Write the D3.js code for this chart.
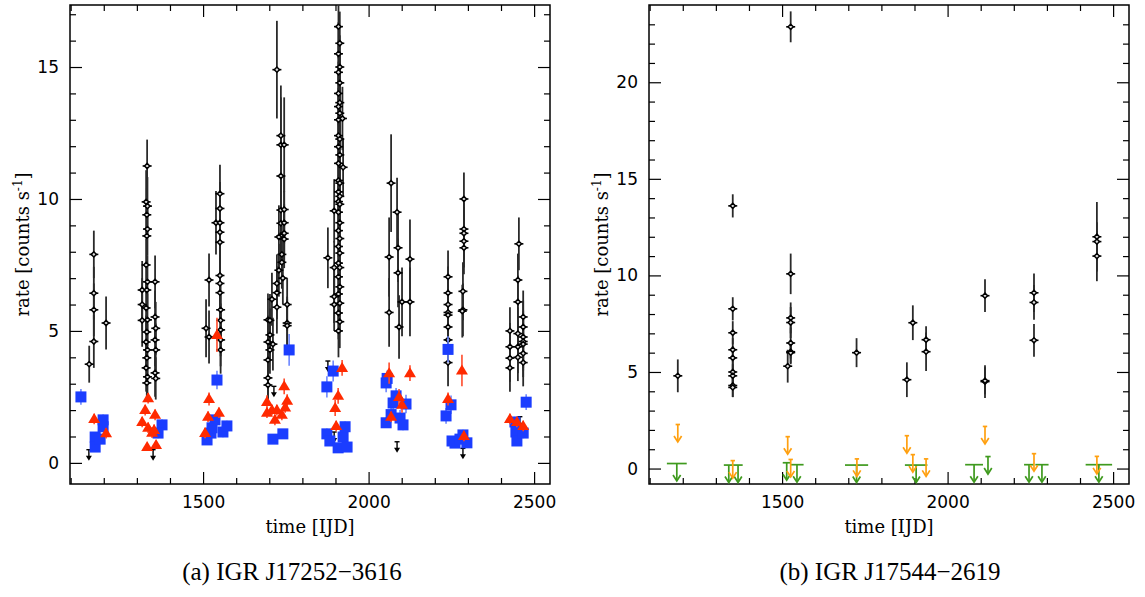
<!DOCTYPE html>
<html>
<head>
<meta charset="utf-8">
<script src="https://cdn.jsdelivr.net/npm/d3@7"></script>
<style>
  html, body { margin: 0; padding: 0; background: #fff; }
  svg { display: block; }
  .tick text { font-family: "DejaVu Sans", sans-serif; font-size: 17px; fill: #000; }
  .axlabel { font-family: "DejaVu Serif", serif; font-size: 18px; }
  .caption { font-family: "Liberation Serif", "Times New Roman", serif; font-size: 25px; }
</style>
</head>
<body>
<svg id="chart" width="1145" height="597"></svg>
<script>
// ---------------- data ----------------
const xDomain = [1098, 2548];
const xMajorTicks = [1500, 2000, 2500];
const leftYDomain = [-0.8, 17.35];
const rightYDomain = [-0.8, 24.0];
const leftYMajorTicks = [0, 5, 10, 15];
const rightYMajorTicks = [0, 5, 10, 15, 20];
const captions = ["(a) IGR J17252\u22123616", "(b) IGR J17544\u22122619"];

// Panel (a): black points [time, rate, error]
const aBlack = [
  [1156,3.74,0.7],[1170,7.9,0.9],[1170,6.43,1.0],[1170,5.8,1.0],[1170,4.6,1.0],[1207,5.3,1.0],
  [1316,6.55,1.1],[1316,6.0,1.0],[1316,5.4,1.0],
  [1331,11.25,1.0],[1328,9.89,1.2],[1332,9.73,1.1],[1330,9.4,1.0],[1332,8.86,1.0],[1330,8.6,1.0],
  [1328,7.5,1.0],[1332,6.86,1.0],[1330,6.55,1.0],[1328,5.87,1.0],[1332,5.42,1.0],[1330,4.96,1.0],
  [1328,4.58,1.0],[1332,4.28,1.0],[1330,3.98,0.9],[1328,3.6,0.9],[1332,3.26,0.8],[1330,3.03,0.6],
  [1355,6.86,1.0],[1355,5.53,1.0],[1357,5.1,1.0],[1355,4.66,1.0],[1357,4.28,1.0],[1355,3.41,0.9],[1357,3.2,0.8],
  [1509,5.1,1.1],[1518,6.93,1.0],[1518,4.77,1.0],[1539,9.1,1.2],
  [1551,10.2,1.1],[1551,9.64,1.0],[1551,9.1,1.0],[1551,8.74,1.0],[1551,8.36,1.0],[1551,7.1,1.0],
  [1551,6.8,1.0],[1551,6.45,1.0],[1553,5.8,1.0],[1553,5.4,1.0],[1553,5.04,1.0],[1553,4.66,1.0],[1553,4.28,0.9],
  [1723,14.9,1.85],[1735,12.4,1.9],[1735,12.05,1.8],[1735,10.87,1.5],[1735,9.58,1.2],[1735,9.08,1.2],[1735,8.6,1.1],
  [1745,12.05,1.8],[1745,9.6,1.3],[1745,9.1,1.2],[1745,8.7,1.1],[1745,8.48,1.1],[1729,8.56,1.2],
  [1696,5.42,1.0],[1696,4.58,1.0],[1696,3.9,0.9],[1696,3.22,0.8],[1696,2.95,0.6],
  [1702,5.4,1.0],[1702,4.85,1.0],[1702,4.28,0.9],[1723,6.8,1.1],[1723,6.45,1.0],[1723,5.9,1.0],
  [1738,7.9,1.1],[1738,7.6,1.0],[1754,6.0,1.0],[1754,5.3,1.0],[1754,5.2,1.0],[1711,4.5,1.0],
  [1708,6.2,1.0],[1729,7.3,1.0],[1741,7.0,1.0],
  [1909,16.53,1.2],[1913,15.9,1.2],[1909,15.5,1.2],[1913,15.0,1.2],[1909,14.8,1.2],[1913,14.4,1.2],
  [1909,14.0,1.2],[1913,13.65,1.2],[1909,13.5,1.2],[1913,13.25,1.2],[1909,13.0,1.2],[1909,12.4,1.1],
  [1913,12.27,1.1],[1909,11.98,1.1],[1913,11.67,1.1],[1909,11.35,1.1],[1923,11.2,1.1],[1909,10.7,1.1],
  [1913,10.6,1.1],[1909,10.27,1.1],[1913,10.1,1.1],[1909,9.9,1.0],[1913,9.8,1.0],[1909,9.5,1.0],
  [1913,9.1,1.0],[1909,8.8,1.0],[1913,8.5,1.0],[1909,8.2,1.0],[1913,7.95,1.0],[1909,7.57,1.0],
  [1913,7.4,1.0],[1909,7.05,1.0],[1913,6.67,1.0],[1909,6.4,1.0],[1913,6.05,1.0],[1909,5.68,1.0],
  [1913,5.35,1.0],[1909,5.0,1.0],[1877,7.77,1.15],[1896,9.55,1.2],[1896,7.4,1.0],[1896,6.3,1.0],
  [1896,6.0,1.0],[1921,13.05,1.2],
  [2068,10.6,1.85],[2086,9.5,1.3],[2089,8.15,1.3],[2062,7.8,1.5],[2062,5.7,1.3],[2089,7.2,1.3],
  [2092,5.15,1.2],[2101,6.1,1.3],[2125,7.72,1.5],[2125,6.1,1.3],
  [2288,10.0,1.0],[2288,8.86,1.0],[2288,8.7,1.0],[2288,8.4,1.0],[2288,8.15,1.0],
  [2240,7.05,1.0],[2240,6.44,1.0],[2240,6.0,1.0],[2240,5.7,1.0],[2240,5.6,1.0],[2240,5.15,1.0],
  [2240,4.66,1.0],[2240,3.8,0.9],[2285,6.5,1.1],[2285,5.8,1.0],[2283,5.75,1.0],
  [2454,8.3,1.0],[2427,5.0,0.9],[2427,4.4,0.9],[2427,3.97,0.9],[2427,3.6,0.9],
  [2451,6.93,1.0],[2451,6.1,1.0],[2451,4.9,1.0],[2451,4.4,1.0],[2451,4.0,0.9],
  [2467,5.53,1.0],[2467,5.15,1.0],[2467,4.77,1.0],[2467,4.6,1.0],[2467,4.5,1.0],[2467,4.15,0.9],[2467,3.8,0.9]
];
// Panel (a): black upper limits [time, rate]
const aBlackLimits = [[1155,0.5],[1349,0.5],[1714,2.9],[1877,3.86],[1896,1.17],[2086,0.8],[2285,0.55],[2457,1.75]];
// Panel (a): blue squares [time, rate, error]
const aBlue = [
  [1131,2.5,0.3],[1174,0.98,0.15],[1174,0.6,0.15],[1198,1.63,0.2],[1198,1.37,0.2],[1189,0.9,0.15],
  [1376,1.44,0.2],[1364,1.13,0.2],
  [1542,3.14,0.35],[1512,0.87,0.15],[1524,1.13,0.2],[1527,1.33,0.2],[1536,1.63,0.2],[1560,1.17,0.2],[1572,1.4,0.2],
  [1760,4.28,0.6],[1711,0.9,0.15],[1741,1.1,0.15],
  [1874,2.88,0.4],[1893,3.48,0.4],[1874,1.1,0.2],[1883,0.83,0.15],[1908,0.57,0.15],[1923,0.98,0.2],[1929,1.37,0.2],[1935,0.6,0.15],
  [2053,3.03,0.35],[2056,3.2,0.3],[2083,2.54,0.3],[2074,2.27,0.3],[2068,1.83,0.3],[2053,1.52,0.2],[2095,1.7,0.3],[2104,1.44,0.2],[2113,2.23,0.35],
  [2240,4.3,0.5],[2249,2.2,0.35],[2234,1.78,0.3],[2252,0.83,0.15],[2261,0.75,0.15],[2276,0.9,0.15],[2285,1.06,0.2],[2297,0.76,0.15],
  [2476,2.3,0.3],[2442,1.55,0.2],[2445,1.17,0.2],[2448,0.83,0.15],[2467,1.13,0.2]
];
// Panel (a): red triangles [time, rate, error]
const aRed = [
  [1171,1.66,0.2],[1207,1.12,0.2],
  [1334,2.45,0.2],[1325,2.0,0.2],[1316,1.55,0.2],[1334,1.33,0.2],[1346,1.14,0.2],[1355,1.82,0.2],[1331,0.6,0.15],[1358,0.68,0.15],[1352,1.25,0.2],
  [1542,4.85,0.65],[1518,2.42,0.25],[1515,1.75,0.2],[1506,1.13,0.2],[1548,1.9,0.2],
  [1745,2.9,0.3],[1693,2.31,0.25],[1754,2.35,0.25],[1693,1.9,0.2],[1708,2.0,0.2],[1723,2.0,0.2],[1717,1.63,0.2],[1738,1.82,0.2],[1748,2.1,0.2],
  [1920,3.6,0.3],[1908,2.54,0.3],[1899,2.08,0.3],[1902,1.4,0.2],
  [2062,3.4,0.4],[2125,3.4,0.3],[2092,2.5,0.3],[2101,2.2,0.3],[2068,1.75,0.2],
  [2282,3.5,0.6],[2240,2.42,0.25],[2288,1.02,0.2],
  [2427,1.66,0.2],[2448,1.55,0.2],[2467,1.4,0.2]
];
// Panel (b): black points [time, rate, error]
const bBlack = [
  [1185,4.8,0.85],[1351,13.6,0.6],[1351,8.27,0.6],[1351,7.03,0.6],[1351,6.15,0.6],[1351,5.73,0.6],
  [1351,5.0,0.6],[1351,4.8,0.6],[1351,4.3,0.6],[1351,4.2,0.5],[1517,5.3,0.85],[1526,22.87,0.8],
  [1526,10.08,1.05],[1526,7.8,0.8],[1526,7.56,0.8],[1526,6.5,0.8],[1526,6.05,0.6],[1526,6.0,0.6],
  [1725,6.0,0.75],[1877,4.6,0.9],[1895,7.55,0.9],[1935,6.67,0.7],[1935,6.05,1.0],
  [2113,8.95,0.85],[2113,4.5,0.85],[2113,4.55,0.7],[2261,9.1,1.0],[2261,8.6,0.9],[2261,6.64,0.85],
  [2451,12.0,1.8],[2451,11.75,1.0],[2451,11.0,1.3]
];
// Panel (b): orange upper limits [time, rate]
const bOrangeLimits = [[1185,2.28],[1351,0.41],[1517,1.65],[1526,0.47],[1726,0.5],[1877,1.7],[1895,0.72],[1935,0.5],[2113,2.18],[2261,0.77],[2451,0.63]];
// Panel (b): green upper limits [time, rate, half-width in days]
const bGreenLimits = [[1182,0.26,30],[1339,0.18,15],[1367,0.18,14],[1514,0.3,12],[1545,0.2,20],[1725,0.18,35],[1905,0.18,34],[2080,0.2,27],[2122,0.62,8],[2246,0.2,15],[2285,0.2,20],[2457,0.2,40]];

// ---------------- drawing ----------------
const svg = d3.select("#chart");
const C = { black: "#000", bar: "#2a2a2a", blue: "#1b3dff", blueBar: "#6b86ff", red: "#ff2a00", redBar: "#ff4a2a", orange: "#ffa010", green: "#3f9a1e" };

function makePanel(id, box, yDomain, yMajor, caption, capX) {
  const x = d3.scaleLinear().domain(xDomain).range([box.x0, box.x1]);
  const y = d3.scaleLinear().domain(yDomain).range([box.y1, box.y0]);
  const g = svg.append("g");
  const minorX = d3.range(1100, 2548, 100).filter(v => !xMajorTicks.includes(v));
  const minorY = d3.range(Math.ceil(yDomain[0]), yDomain[1], 1).filter(v => !yMajor.includes(v));

  function styleAxis(sel) {
    sel.select(".domain").remove();
    sel.selectAll(".tick line").attr("stroke", "#000").attr("stroke-width", 1.2);
  }
  g.append("g").attr("transform", `translate(0,${box.y1})`)
    .call(d3.axisBottom(x).tickValues(xMajorTicks).tickFormat(d3.format("d")).tickSize(-12).tickPadding(12)).call(styleAxis);
  g.append("g").attr("transform", `translate(0,${box.y1})`)
    .call(d3.axisBottom(x).tickValues(minorX).tickFormat("").tickSize(-6)).call(styleAxis);
  g.append("g").attr("transform", `translate(0,${box.y0})`)
    .call(d3.axisTop(x).tickValues(xMajorTicks).tickFormat("").tickSize(-12)).call(styleAxis);
  g.append("g").attr("transform", `translate(0,${box.y0})`)
    .call(d3.axisTop(x).tickValues(minorX).tickFormat("").tickSize(-6)).call(styleAxis);
  g.append("g").attr("transform", `translate(${box.x0},0)`)
    .call(d3.axisLeft(y).tickValues(yMajor).tickFormat(d3.format("d")).tickSize(-12).tickPadding(11)).call(styleAxis);
  g.append("g").attr("transform", `translate(${box.x0},0)`)
    .call(d3.axisLeft(y).tickValues(minorY).tickFormat("").tickSize(-6)).call(styleAxis);
  g.append("g").attr("transform", `translate(${box.x1},0)`)
    .call(d3.axisRight(y).tickValues(yMajor).tickFormat("").tickSize(-12)).call(styleAxis);
  g.append("g").attr("transform", `translate(${box.x1},0)`)
    .call(d3.axisRight(y).tickValues(minorY).tickFormat("").tickSize(-6)).call(styleAxis);

  g.append("rect").attr("x", box.x0).attr("y", box.y0).attr("width", box.x1 - box.x0).attr("height", box.y1 - box.y0)
    .attr("fill", "none").attr("stroke", "#000").attr("stroke-width", 1.5);

  g.append("text").attr("class", "axlabel").attr("x", (box.x0 + box.x1) / 2).attr("y", 533).attr("text-anchor", "middle")
    .text("time [IJD]");
  const yl = g.append("text").attr("class", "axlabel")
    .attr("transform", `translate(${box.x0 - 41},${(box.y0 + box.y1) / 2}) rotate(-90)`)
    .attr("text-anchor", "middle");
  yl.append("tspan").text("rate [counts s");
  yl.append("tspan").attr("dy", -7).attr("font-size", 12).text("-1");
  yl.append("tspan").attr("dy", 7).text("]");

  g.append("text").attr("class", "caption").attr("x", capX).attr("y", 580).attr("text-anchor", "middle").text(caption);

  const clipId = "clip-" + id;
  svg.append("clipPath").attr("id", clipId).append("rect")
    .attr("x", box.x0).attr("y", box.y0).attr("width", box.x1 - box.x0).attr("height", box.y1 - box.y0);
  const plot = svg.append("g").attr("clip-path", `url(#${clipId})`);
  return { x, y, plot };
}

function drawBlack(p, data) {
  const gg = p.plot.append("g");
  gg.selectAll("line.eb").data(data).join("line")
    .attr("x1", d => p.x(d[0])).attr("x2", d => p.x(d[0]))
    .attr("y1", d => p.y(d[1] + d[2])).attr("y2", d => p.y(d[1] - d[2]))
    .attr("stroke", C.bar).attr("stroke-width", 1.8);
  gg.selectAll("line.hb").data(data).join("line")
    .attr("x1", d => p.x(d[0]) - 4.5).attr("x2", d => p.x(d[0]) + 4.5)
    .attr("y1", d => p.y(d[1])).attr("y2", d => p.y(d[1]))
    .attr("stroke", C.black).attr("stroke-width", 1.6);
  gg.selectAll("path.mk").data(data).join("path")
    .attr("d", d => { const cx = p.x(d[0]), cy = p.y(d[1]); return `M${cx - 2.6},${cy}L${cx},${cy - 2.6}L${cx + 2.6},${cy}L${cx},${cy + 2.6}Z`; })
    .attr("fill", "#ddd").attr("stroke", C.black).attr("stroke-width", 1.5);
}

function drawSquares(p, data) {
  const gg = p.plot.append("g");
  gg.selectAll("line").data(data).join("line")
    .attr("x1", d => p.x(d[0])).attr("x2", d => p.x(d[0]))
    .attr("y1", d => p.y(d[1] + d[2])).attr("y2", d => p.y(d[1] - d[2]))
    .attr("stroke", C.blueBar).attr("stroke-width", 1.6);
  gg.selectAll("rect").data(data).join("rect")
    .attr("x", d => p.x(d[0]) - 5.5).attr("y", d => p.y(d[1]) - 5.5).attr("width", 11).attr("height", 11)
    .attr("fill", C.blue);
}

function drawTriangles(p, data) {
  const gg = p.plot.append("g");
  gg.selectAll("line").data(data).join("line")
    .attr("x1", d => p.x(d[0])).attr("x2", d => p.x(d[0]))
    .attr("y1", d => p.y(d[1] + d[2])).attr("y2", d => p.y(d[1] - d[2]))
    .attr("stroke", C.redBar).attr("stroke-width", 1.6);
  gg.selectAll("path").data(data).join("path")
    .attr("d", d => { const cx = p.x(d[0]), cy = p.y(d[1]); return `M${cx - 6},${cy + 4}L${cx + 6},${cy + 4}L${cx},${cy - 6}Z`; })
    .attr("fill", C.red);
}

function drawBlackLimits(p, data) {
  const gg = p.plot.append("g");
  data.forEach(d => {
    const cx = p.x(d[0]), cy = p.y(d[1]);
    gg.append("line").attr("x1", cx - 2.5).attr("x2", cx + 2.5).attr("y1", cy).attr("y2", cy).attr("stroke", "#000").attr("stroke-width", 1.4);
    gg.append("line").attr("x1", cx).attr("x2", cx).attr("y1", cy).attr("y2", cy + 9).attr("stroke", "#000").attr("stroke-width", 1.4);
    gg.append("path").attr("d", `M${cx - 3},${cy + 6}L${cx + 3},${cy + 6}L${cx},${cy + 11}Z`).attr("fill", "#000");
  });
}

function drawArrowLimits(p, data, color, withCap, withHBar) {
  const gg = p.plot.append("g").attr("stroke", color).attr("fill", "none").attr("stroke-width", 1.7);
  data.forEach(d => {
    const cx = p.x(d[0]), cy = p.y(d[1]);
    if (withHBar) {
      gg.append("line").attr("x1", p.x(d[0] - d[2])).attr("x2", p.x(d[0] + d[2])).attr("y1", cy).attr("y2", cy);
    }
    if (withCap) {
      gg.append("line").attr("x1", cx - 2.2).attr("x2", cx + 2.2).attr("y1", cy).attr("y2", cy);
    }
    gg.append("line").attr("x1", cx).attr("x2", cx).attr("y1", cy).attr("y2", cy + 17);
    gg.append("path").attr("d", `M${cx - 3.8},${cy + 11.5}L${cx},${cy + 17.5}L${cx + 3.8},${cy + 11.5}`);
  });
}

const pa = makePanel("a", { x0: 70, x1: 550, y0: 5, y1: 484 }, leftYDomain, leftYMajorTicks, captions[0], 292);
drawBlack(pa, aBlack);
drawBlackLimits(pa, aBlackLimits);
drawSquares(pa, aBlue);
drawTriangles(pa, aRed);

const pb = makePanel("b", { x0: 649, x1: 1129, y0: 5, y1: 484 }, rightYDomain, rightYMajorTicks, captions[1], 890);
drawBlack(pb, bBlack);
drawArrowLimits(pb, bGreenLimits, C.green, false, true);
drawArrowLimits(pb, bOrangeLimits, C.orange, true, false);
</script>
</body>
</html>
